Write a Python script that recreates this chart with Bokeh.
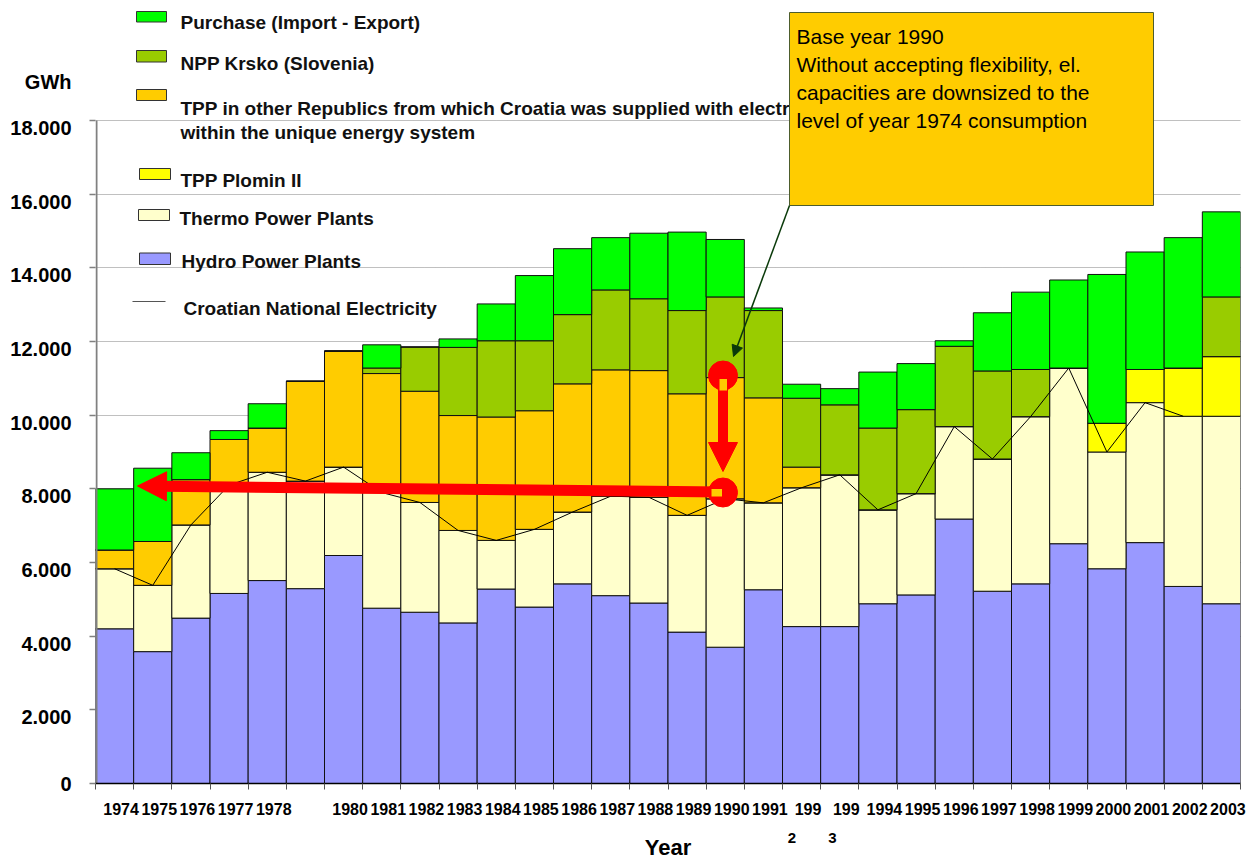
from bokeh.plotting import figure
from bokeh.models import (ColumnDataSource, FixedTicker, Label, BoxAnnotation, Arrow, NormalHead,
                          Range1d, LinearAxis)
from bokeh.embed import file_html
from bokeh.resources import INLINE

years = list(range(1974, 2004))
hydro = [4200, 3580, 4490, 5160, 5510, 5290, 6190, 4760, 4650, 4360, 5280, 4790, 5420, 5100, 4900,
         4110, 3700, 5260, 4260, 4260, 4880, 5120, 7180, 5220, 5420, 6510, 5830, 6540, 5350, 4880]
thermo = [1630, 1800, 2530, 2940, 2940, 2920, 2400, 3140, 2980, 2510, 1320, 2110, 1950, 2700, 2870,
          3170, 4030, 2360, 3770, 4120, 2550, 2750, 2510, 3590, 4540, 4770, 3170, 3800, 4620, 5090]
plomin = [0] * 26 + [780, 900, 1310, 1620]
tpp_other = [510, 1190, 1230, 1240, 1200, 2710, 3150, 3230, 3020, 3120, 3350, 3220, 3480, 3430, 3440,
             3300, 3290, 2850, 560] + [0] * 11
krsko = [0] * 7 + [150, 1200, 1850, 2070, 1900, 1880, 2170, 1950, 2260, 2190, 2370, 1870, 1900, 2220,
                   2280, 2180, 2390, 1280] + [0, 0, 0, 0, 1620]
purchase = [1660, 1990, 730, 240, 660, 0, 0, 630, 0, 230, 1000, 1770, 1790, 1420, 1780, 2130, 1560,
            70, 380, 440, 1520, 1250, 150, 1580, 2100, 2390, 4040, 3190, 3540, 2310]
national_years = list(range(1974, 2003))
national = [5830, 5380, 7020, 8100, 8450, 8210, 8590, 7900, 7630, 6870, 6600, 6900, 7370, 7800, 7770,
            7280, 7730, 7620, 8030, 8380, 7430, 7870, 9690, 8810, 9960, 11280, 9000, 10340, 9970]

year_labels = {y: str(y) for y in years}
year_labels[1979] = ""
year_labels[1992] = "199"
year_labels[1993] = "199"
y_ticks = list(range(0, 18001, 2000))
y_unit = "GWh"
x_title = "Year"

series = ["hydro", "thermo", "plomin", "tpp_other", "krsko", "purchase"]
colors = ["#9999FF", "#FFFFCC", "#FFFF00", "#FFCC00", "#99CC00", "#00FF00"]
legend_names = ["Hydro Power Plants", "Thermo Power Plants", "TPP Plomin II",
                "TPP in other Republics from which Croatia was supplied with electricity",
                "NPP Krsko (Slovenia)", "Purchase (Import - Export)"]

src = ColumnDataSource(dict(year=years, hydro=hydro, thermo=thermo, plomin=plomin,
                            tpp_other=tpp_other, krsko=krsko, purchase=purchase))

# ---- layout helpers (page pixel -> data) ----
FL, FR, FB = 95.0, 1240.0, 783.0
PXX = (FR - FL) / 30.0
PXY = (783.0 - 120.0) / 18000.0


def X(px):
    return 1973.5 + (px - FL) / PXX


def Y(py):
    return (FB - py) / PXY


W, H = 1250, 862
p = figure(width=W, height=H, output_backend="svg", toolbar_location=None,
           x_range=Range1d(1973.5, 2003.5), y_range=Range1d(0, Y(0)),
           min_border_left=int(FL), min_border_right=W - int(FR), min_border_top=0,
           min_border_bottom=H - int(FB))
p.outline_line_color = None
p.background_fill_color = "white"
p.border_fill_color = "white"

p.vbar_stack(series, x="year", width=1.0, source=src, fill_color=colors,
             line_color="#111111", line_width=1)
p.line(national_years, national, line_color="black", line_width=1)

# ---- y axis ----
p.xgrid.visible = False
p.ygrid.ticker = FixedTicker(ticks=y_ticks)
p.ygrid.grid_line_color = "#808080"
p.ygrid.grid_line_dash = "1 1"
p.ygrid.grid_line_width = 1

Y_LABEL_SHIFT = 200
gwh_pos = Y(81)
label_pos = [max(t - Y_LABEL_SHIFT, 0) for t in y_ticks]
ya = p.yaxis[0]
ya.ticker = FixedTicker(ticks=label_pos + [gwh_pos], minor_ticks=y_ticks)
overrides = {lp: f"{t:,}".replace(",", ".") for lp, t in zip(label_pos, y_ticks)}
overrides[gwh_pos] = y_unit
ya.major_label_overrides = overrides
ya.bounds = (0, Y(60))
ya.axis_line_color = None
ya.major_tick_line_color = None
ya.major_tick_out = 0
ya.major_tick_in = 0
ya.minor_tick_line_color = "#808080"
ya.minor_tick_line_width = 1.5
ya.minor_tick_out = 6
ya.minor_tick_in = 0
ya.major_label_standoff = 18
ya.major_label_text_font = "Liberation Sans"
ya.major_label_text_font_style = "bold"
ya.major_label_text_font_size = "20px"
ya.major_label_text_color = "black"
p.segment(x0=[X(96)], y0=[0], x1=[X(96)], y1=[18000], line_color="#808080", line_width=2)

# ---- x axis ----
SHIFT = 0.17
xa = p.xaxis[0]
xa.ticker = FixedTicker(ticks=[y + SHIFT for y in years],
                        minor_ticks=[1973.5 + i for i in range(31)])
xa.major_label_overrides = {y + SHIFT: year_labels[y] for y in years}
xa.axis_line_color = "black"
xa.axis_line_width = 1.5
xa.major_tick_line_color = None
xa.major_tick_out = 0
xa.major_tick_in = 0
xa.minor_tick_line_color = "#555555"
xa.minor_tick_out = 6
xa.minor_tick_in = 0
xa.major_label_standoff = 13
xa.major_label_text_font = "Liberation Sans"
xa.major_label_text_font_style = "bold"
xa.major_label_text_font_size = "16px"
xa.major_label_text_color = "black"

# second row of the broken labels "199 / 2", "199 / 3" and the axis title
second_ticks = [1991.75, 1992.81]
xa2 = LinearAxis(ticker=FixedTicker(ticks=second_ticks, minor_ticks=[]),
                 major_label_overrides={second_ticks[0]: "2", second_ticks[1]: "3"},
                 axis_line_color=None, major_tick_line_color=None, minor_tick_line_color=None,
                 major_tick_out=0, major_tick_in=0, major_label_standoff=15,
                 major_label_text_font="Liberation Sans", major_label_text_font_style="bold",
                 major_label_text_font_size="15px", major_label_text_color="black",
                 axis_label=x_title, axis_label_standoff=-11,
                 axis_label_text_font="Liberation Sans", axis_label_text_font_style="bold",
                 axis_label_text_font_size="22px", axis_label_text_color="black")
p.add_layout(xa2, "below")

# ---- legend (custom) ----
sw = [  # (series index, left, right, top, bottom) in page px
    (5, 136, 166, 11, 21.5),
    (4, 136, 166, 50, 61.5),
    (3, 136, 166, 89, 100),
    (2, 139, 170, 168, 179),
    (1, 138, 169, 209, 220),
    (0, 139, 170, 252.5, 264),
]
for idx, l, r, t, b in sw:
    p.quad(left=[X(l)], right=[X(r)], top=[Y(t)], bottom=[Y(b)], fill_color=colors[idx],
           line_color="#333333", line_width=1)
p.line([X(132), X(165)], [Y(301), Y(301)], line_color="#555555", line_width=1.2)

leg_text = [
    (legend_names[5], 180, 22),
    (legend_names[4], 180, 63),
    (legend_names[3], 180, 108),
    ("within the unique energy system", 180, 132),
    (legend_names[2], 180, 180),
    (legend_names[1], 179, 218),
    (legend_names[0], 181, 261),
    ("Croatian National Electricity", 183, 308),
]
for txt, lx, ly in leg_text:
    p.add_layout(Label(x=X(lx), y=Y(ly), text=txt, text_font="Liberation Sans",
                       text_font_style="bold", text_font_size="19px", text_color="#111111",
                       text_baseline="middle", text_align="left"))

# ---- note box ----
p.add_layout(BoxAnnotation(left=X(789), right=X(1153), top=Y(12), bottom=Y(205),
                           fill_color="#FFCC00", fill_alpha=1.0, line_color="#4d5d2d",
                           line_width=1, line_alpha=1.0))
note = ["Base year 1990", "Without accepting flexibility, el.",
        "capacities are downsized to the", "level of year 1974 consumption"]
for i, line in enumerate(note):
    p.add_layout(Label(x=X(796), y=Y(36 + i * 28), text=line, text_font="Liberation Sans",
                       text_font_size="21px", text_color="black", text_baseline="middle",
                       text_align="left"))
p.add_layout(Arrow(x_start=X(789), y_start=Y(205), x_end=X(733), y_end=Y(356),
                   line_color="#0a3a0a", line_width=1.5,
                   end=NormalHead(size=11, fill_color="#0a3a0a", line_color="#0a3a0a")))

# ---- red arrows ----
cx = X(722.5)
p.scatter([cx, cx], [Y(375), Y(492)], size=29, marker="circle", fill_color="red",
          line_color="red")
p.add_layout(Arrow(x_start=cx, y_start=Y(376), x_end=cx, y_end=Y(471), line_color="red",
                   line_width=10, end=NormalHead(size=29, fill_color="red", line_color="red")))
p.add_layout(Arrow(x_start=cx, y_start=Y(491.5), x_end=X(137), y_end=Y(485.5), line_color="red",
                   line_width=11, end=NormalHead(size=29, fill_color="red", line_color="red")))
p.add_layout(BoxAnnotation(left=X(719), right=X(726.5), top=Y(378.5), bottom=Y(390),
                           fill_color="#FFCC00", fill_alpha=1, line_color=None))
p.add_layout(BoxAnnotation(left=X(711), right=X(721.5), top=Y(488.5), bottom=Y(496),
                           fill_color="#FFCC00", fill_alpha=1, line_color=None))

open("out.html", "w").write(file_html(p, INLINE))
